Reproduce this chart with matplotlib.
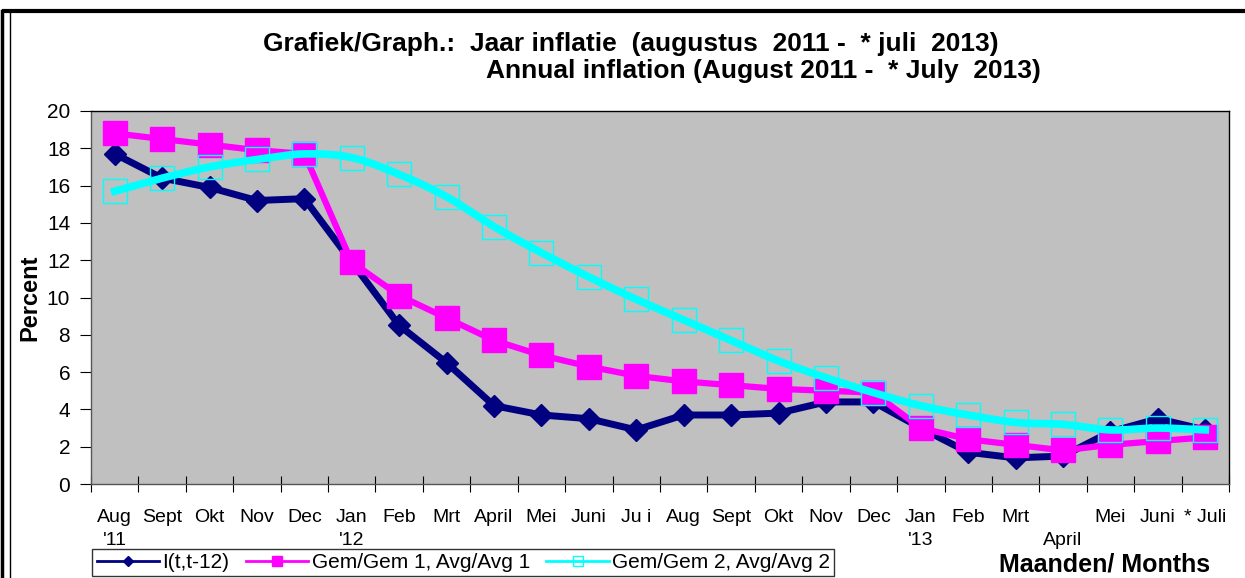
import numpy as np
import matplotlib.pyplot as plt
from matplotlib.lines import Line2D

plt.rcParams['font.family'] = ['Liberation Sans', 'DejaVu Sans']

months = ["Aug\n'11", "Sept", "Okt", "Nov", "Dec", "Jan\n'12", "Feb", "Mrt", "April",
          "Mei", "Juni", "Ju i", "Aug", "Sept", "Okt", "Nov", "Dec", "Jan\n'13", "Feb",
          "Mrt", "\nApril", "Mei", "Juni", "* Juli"]

infl = [17.7, 16.4, 15.9, 15.2, 15.3, 11.9, 8.5, 6.5, 4.2, 3.7, 3.5, 2.9,
        3.7, 3.7, 3.8, 4.4, 4.4, 3.0, 1.7, 1.4, 1.5, 2.8, 3.5, 2.9]
avg1 = [18.8, 18.5, 18.2, 17.9, 17.7, 11.9, 10.1, 8.9, 7.7, 6.9, 6.3, 5.8,
        5.5, 5.3, 5.1, 5.0, 4.9, 3.0, 2.4, 2.1, 1.8, 2.1, 2.3, 2.5]
avg2 = [15.7, 16.4, 17.0, 17.4, 17.7, 17.5, 16.6, 15.4, 13.8, 12.4, 11.1, 9.9,
        8.8, 7.7, 6.6, 5.7, 4.9, 4.2, 3.7, 3.3, 3.2, 2.9, 3.0, 2.9]

labels = ['I(t,t-12)', 'Gem/Gem 1, Avg/Avg 1', 'Gem/Gem 2, Avg/Avg 2']
navy = '#000080'
magenta = '#FF00FF'
cyan = '#00FFFF'


def smooth(x, y, n=20):
    # catmull-rom style smoothing like excel's smoothed line
    x = np.asarray(x, float)
    y = np.asarray(y, float)
    px = np.concatenate([[2 * x[0] - x[1]], x, [2 * x[-1] - x[-2]]])
    py = np.concatenate([[2 * y[0] - y[1]], y, [2 * y[-1] - y[-2]]])
    xs, ys = [], []
    t = np.linspace(0, 1, n, endpoint=False)
    for i in range(1, len(px) - 2):
        for p, out in ((px, xs), (py, ys)):
            p0, p1, p2, p3 = p[i - 1], p[i], p[i + 1], p[i + 2]
            out.extend(0.5 * ((2 * p1) + (-p0 + p2) * t + (2 * p0 - 5 * p1 + 4 * p2 - p3) * t ** 2
                              + (-p0 + 3 * p1 - 3 * p2 + p3) * t ** 3))
    xs.append(x[-1])
    ys.append(y[-1])
    return np.array(xs), np.array(ys)


W, H = 1245, 578
fig = plt.figure(figsize=(W / 100, H / 100), dpi=100)
ax = fig.add_axes([91 / W, 1 - 484 / H, (1229 - 91) / W, (484 - 111) / H])
ax.set_facecolor('#C0C0C0')

x = np.arange(len(months))
ax.plot(x, infl, color=navy, lw=5, marker='D', ms=11, zorder=3)
ax.plot(x, avg1, color=magenta, lw=4.5, marker='s', ms=17, zorder=4)
sx, sy = smooth(x, avg2)
ax.plot(sx, sy, color=cyan, lw=5.5, zorder=5)
ax.plot(x, avg2, ls='none', marker='s', ms=17, mfc='none', mec=cyan, mew=1, zorder=6)

ax.set_xlim(-0.5, len(months) - 0.5)
ax.set_ylim(0, 20)
ax.set_yticks(range(0, 21, 2))
ax.set_xticks(x)
ax.set_xticklabels(months, fontsize=14, linespacing=1.45, va='top')
ax.set_xticks(np.arange(-0.5, len(months), 1), minor=True)
ax.tick_params(axis='x', which='major', length=0, pad=18)
ax.tick_params(axis='x', which='minor', direction='inout', length=12, width=0.8)
ax.tick_params(axis='y', direction='out', length=8, width=0.8, labelsize=15, pad=7)
for s in ax.spines.values():
    s.set_linewidth(1.0)
ax.spines['left'].set_color('#555555')
ax.spines['bottom'].set_color('#555555')
ax.set_ylabel('Percent', fontsize=17, fontweight='bold', labelpad=4)

fig.text(631 / W, 1 - 44 / H, 'Grafiek/Graph.:  Jaar inflatie  (augustus  2011 -  * juli  2013)',
         ha='center', va='center', fontsize=19, fontweight='bold')
fig.text(763 / W, 1 - 71 / H, 'Annual inflation (August 2011 -  * July  2013)',
         ha='center', va='center', fontsize=19, fontweight='bold')
fig.text(1105 / W, 1 - 564 / H, 'Maanden/ Months', ha='center', va='center',
         fontsize=18, fontweight='bold')

handles = [
    Line2D([], [], color=navy, lw=2, marker='D', ms=5),
    Line2D([], [], color=magenta, lw=2, marker='s', ms=7),
    Line2D([], [], color=cyan, lw=2, marker='s', ms=7, mfc='none', mew=1),
]
leg = fig.legend(handles, labels, ncol=3, loc='lower left', bbox_to_anchor=(82 / W, -0.015),
                 fontsize=15, frameon=True, fancybox=False, borderpad=0.2, handlelength=3.0,
                 handletextpad=0.15, columnspacing=0.8)
leg.get_frame().set_edgecolor('black')
leg.get_frame().set_linewidth(1.0)

# outer frame
fig.add_artist(Line2D([4 / W, 1], [1 - 11 / H, 1 - 11 / H], color='black', lw=3,
                      transform=fig.transFigure))
fig.add_artist(Line2D([1.5 / W, 1.5 / W], [0, 1 - 11 / H], color='black', lw=2.5,
                      transform=fig.transFigure))
fig.add_artist(Line2D([10 / W, 10 / W], [0, 1 - 12 / H], color='black', lw=1,
                      transform=fig.transFigure))

fig.savefig('out.png', dpi=100)
